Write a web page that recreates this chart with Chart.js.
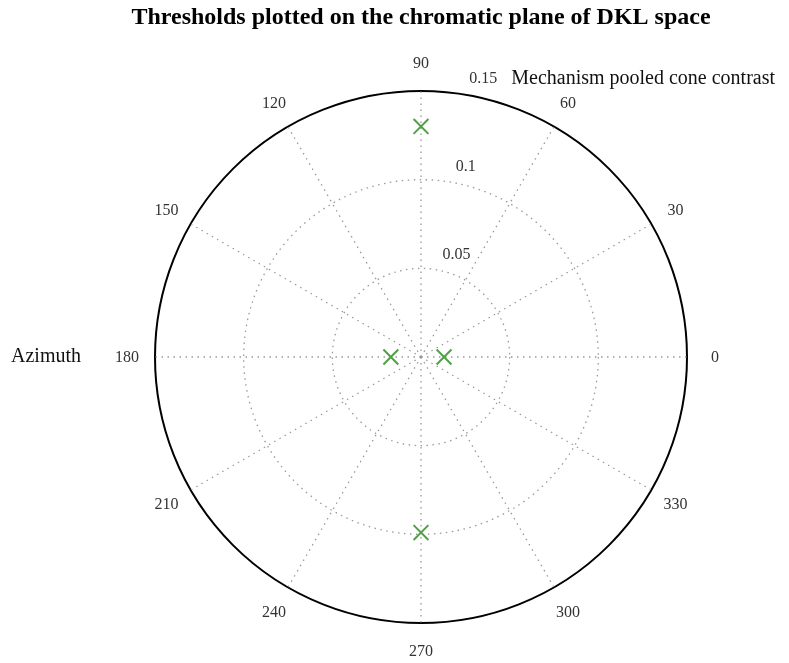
<!DOCTYPE html>
<html>
<head>
<meta charset="utf-8">
<script src="https://cdn.jsdelivr.net/npm/chart.js@4.4.1/dist/chart.umd.min.js"></script>
<style>
  html, body { margin: 0; padding: 0; background: #fff; }
  #wrap { width: 789px; height: 663px; }
</style>
</head>
<body>
<div id="wrap"><canvas id="myChart"></canvas></div>
<script>
// azimuth labels, in the order the radar scale lays them out (top, then clockwise)
var azimuthLabels = ['90', '60', '30', '0', '330', '300', '270', '240', '210', '180', '150', '120'];
// thresholds measured at these azimuths (deg)
var thresholdAngles = ['0', '90', '180', '270'];
var thresholdValues = [0.013, 0.130, 0.017, 0.099];
// radial ticks
var rTicks = [0.05, 0.1, 0.15];
var rMax = 0.15;

var green = 'rgb(80,160,70)';
var serif = "'Liberation Serif', 'DejaVu Serif', serif";

// put the thresholds onto the azimuth label slots
var radarData = azimuthLabels.map(function(lab) {
    var i = thresholdAngles.indexOf(lab);
    return i >= 0 ? thresholdValues[i] : null;
});

// azimuth labels (centred on a circle), tick labels + axis titles
var polarText = {
    id: 'polarText',
    afterDraw: function(chart) {
        var s = chart.scales.r;
        var ctx = chart.ctx;
        ctx.save();
        ctx.fillStyle = '#333';
        ctx.font = '16px ' + serif;
        ctx.textAlign = 'center';
        ctx.textBaseline = 'middle';
        azimuthLabels.forEach(function(lab, i) {
            var p = s.getPointPosition(i, s.drawingArea + 28);
            ctx.fillText(lab, p.x, p.y + 1);
        });

        var a = 8.7 * Math.PI / 180;
        ctx.textAlign = 'left';
        var lastRight = 0, lastY = 0;
        rTicks.forEach(function(v) {
            var d = s.getDistanceFromCenterForValue(v);
            var x = s.xCenter + d * Math.sin(a) + 8;
            var y = s.yCenter - d * Math.cos(a) - 15;
            ctx.fillText(String(v), x, y);
            lastRight = x + ctx.measureText(String(v)).width;
            lastY = y;
        });
        ctx.fillStyle = '#111';
        ctx.font = '20px ' + serif;
        ctx.fillText('Mechanism pooled cone contrast', lastRight + 14, lastY);
        ctx.fillText('Azimuth', s.xCenter - s.drawingArea - 144, s.yCenter);
        ctx.restore();
    }
};

var grapharea = document.getElementById('myChart');
const data = {
    labels: azimuthLabels,
    datasets: [{
        label: 'Thresholds',
        data: radarData,
        showLine: false,
        fill: false,
        spanGaps: false,
        pointStyle: 'crossRot',
        pointRadius: 10.5,
        pointHoverRadius: 10.5,
        pointBorderWidth: 2,
        pointBorderColor: green,
        pointBackgroundColor: green,
        borderColor: green
    }]
};
const config = {
    type: 'radar',
    data: data,
    options: {
        responsive: true,
        maintainAspectRatio: false,
        animation: false,
        layout: { padding: { left: 53, right: 0, top: 0, bottom: 1 } },
        plugins: {
            legend: { display: false },
            tooltip: { enabled: false },
            title: {
                display: true,
                text: 'Thresholds plotted on the chromatic plane of DKL space',
                color: '#000',
                font: { family: serif, size: 24, weight: 'bold' },
                padding: { top: 3, bottom: 22 }
            }
        },
        scales: {
            r: {
                min: 0,
                max: rMax,
                ticks: { stepSize: 0.05, display: false },
                grid: {
                    circular: true,
                    color: function(c) { return c.tick && c.tick.value >= rMax ? '#000' : '#999'; },
                    lineWidth: function(c) { return c.tick && c.tick.value >= rMax ? 2 : 1.3; }
                },
                border: {
                    dash: function(c) { return c.tick && c.tick.value >= rMax ? [] : [1.5, 4.5]; }
                },
                angleLines: {
                    color: '#999',
                    lineWidth: 1.3,
                    borderDash: [1.5, 4.5]
                },
                // kept for layout only; drawn centred by the plugin
                pointLabels: {
                    color: 'rgba(0,0,0,0)',
                    padding: 18,
                    font: { family: serif, size: 16 }
                }
            }
        }
    },
    plugins: [polarText]
};
const myChart = new Chart(grapharea, config);
</script>
</body>
</html>
